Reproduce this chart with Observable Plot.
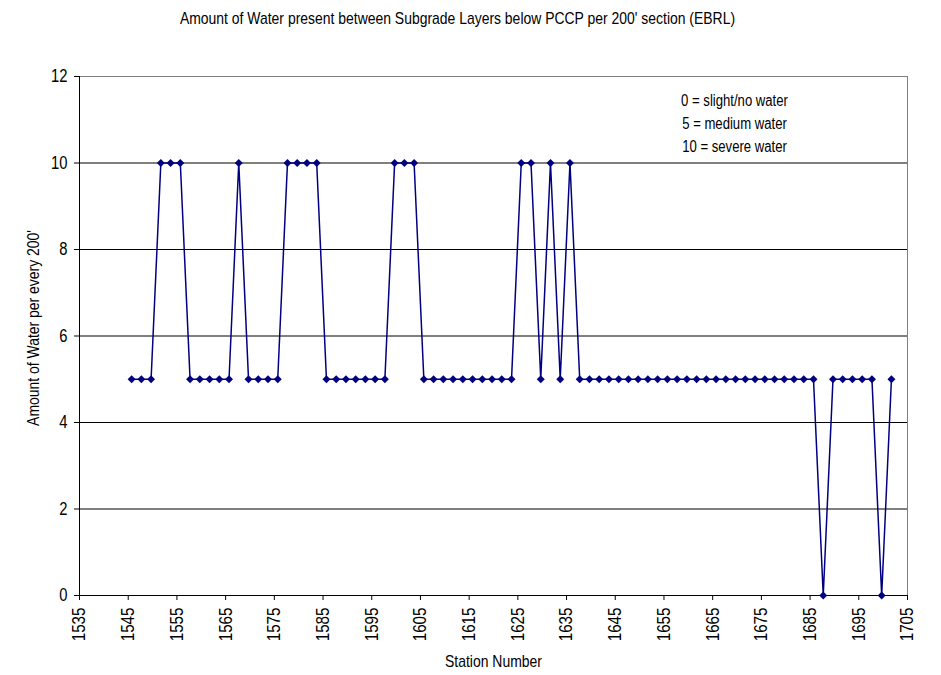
<!DOCTYPE html>
<html>
<head>
<meta charset="utf-8">
<script src="https://cdn.jsdelivr.net/npm/d3@7"></script>
<script src="https://cdn.jsdelivr.net/npm/@observablehq/plot@0.6"></script>
<style>
  html, body { margin: 0; padding: 0; background: #fff; }
  #chart svg { display: block; }
</style>
</head>
<body>
<div id="chart"></div>
<script>
// Station (in 100 ft units) at each 200' section along the EBRL
const stations = [
  1545.7, 1547.7, 1549.7, 1551.7, 1553.7, 1555.7, 1557.7, 1559.7, 1561.7, 1563.7,
  1565.7, 1567.7, 1569.7, 1571.7, 1573.7, 1575.7, 1577.7, 1579.7, 1581.7, 1583.7,
  1585.7, 1587.7, 1589.7, 1591.7, 1593.7, 1595.7, 1597.7, 1599.7, 1601.7, 1603.7,
  1605.7, 1607.7, 1609.7, 1611.7, 1613.7, 1615.7, 1617.7, 1619.7, 1621.7, 1623.7,
  1625.7, 1627.7, 1629.7, 1631.7, 1633.7, 1635.7, 1637.7, 1639.7, 1641.7, 1643.7,
  1645.7, 1647.7, 1649.7, 1651.7, 1653.7, 1655.7, 1657.7, 1659.7, 1661.7, 1663.7,
  1665.7, 1667.7, 1669.7, 1671.7, 1673.7, 1675.7, 1677.7, 1679.7, 1681.7, 1683.7,
  1685.7, 1687.7, 1689.7, 1691.7, 1693.7, 1695.7, 1697.7, 1699.7, 1701.7
];

// Water rating per section: 0 = slight/no, 5 = medium, 10 = severe
const water = [
  5, 5, 5, 10, 10, 10, 5, 5, 5, 5,
  5, 10, 5, 5, 5, 5, 10, 10, 10, 10,
  5, 5, 5, 5, 5, 5, 5, 10, 10, 10,
  5, 5, 5, 5, 5, 5, 5, 5, 5, 5,
  10, 10, 5, 10, 5, 10, 5, 5, 5, 5,
  5, 5, 5, 5, 5, 5, 5, 5, 5, 5,
  5, 5, 5, 5, 5, 5, 5, 5, 5, 5,
  5, 0, 5, 5, 5, 5, 5, 0, 5
];

const xTicks = [1535, 1545, 1555, 1565, 1575, 1585, 1595, 1605, 1615, 1625,
                1635, 1645, 1655, 1665, 1675, 1685, 1695, 1705];
const yTicks = [0, 2, 4, 6, 8, 10, 12];
const gridLevels = [2, 4, 6, 8, 10];
const legendLines = ["0 = slight/no water", "5 = medium water", "10 = severe water"];

const titleText = "Amount of Water present between Subgrade Layers below PCCP per 200' section (EBRL)";
const xTitle = "Station Number";
const yTitle = "Amount of Water per every 200'";

const sections = stations.map((s, i) => ({station: s, water: water[i]}));

const font = "'Liberation Sans', Arial, sans-serif";
const navy = "#000080";

const chart = Plot.plot({
  width: 941,
  height: 675,
  marginLeft: 79,
  marginRight: 34,
  marginTop: 76,
  marginBottom: 80,
  style: {fontFamily: font, background: "#fff", color: "#000"},
  x: {domain: [1535, 1705]},
  y: {domain: [0, 12]},
  marks: [
    // horizontal gridlines
    Plot.ruleY(gridLevels, {stroke: "#000", strokeWidth: 1}),
    // plot-area border (top and right)
    Plot.ruleY([12], {stroke: "#808080", strokeWidth: 1}),
    Plot.ruleX([1705], {stroke: "#808080", strokeWidth: 1}),
    // axes
    Plot.axisY({ticks: yTicks, tickSize: 5, tickPadding: 7, fontSize: 18,
                label: null, stroke: "#000", strokeOpacity: 1}),
    Plot.axisX({ticks: xTicks, tickRotate: -90, tickSize: 5, tickPadding: 7, fontSize: 18.5,
                label: null, tickFormat: d => String(d), stroke: "#000", strokeOpacity: 1}),
    Plot.ruleX([1535], {stroke: "#000", strokeWidth: 1}),
    Plot.ruleY([0], {stroke: "#000", strokeWidth: 1}),
    // series
    Plot.line(sections, {x: "station", y: "water", stroke: navy, strokeWidth: 1.5}),
    Plot.dot(sections, {x: "station", y: "water", symbol: "diamond2", r: 3.6, fill: navy, stroke: "none"}),
    // rating key
    Plot.text([legendLines.join("\n")], {
      frameAnchor: "top", dx: 241, dy: 13, lineAnchor: "top",
      lineHeight: 1.44, fontSize: 16, fill: "#000"
    }),
    // titles
    Plot.text([titleText], {
      frameAnchor: "top", dx: -36, dy: -58, lineAnchor: "middle",
      fontSize: 17, fill: "#000"
    }),
    Plot.text([xTitle], {
      frameAnchor: "bottom", dy: 66, lineAnchor: "middle",
      fontSize: 17, fill: "#000"
    }),
    Plot.text([yTitle], {
      frameAnchor: "left", dx: -46, dy: -8, rotate: -90, lineAnchor: "middle",
      textAnchor: "middle", fontSize: 17, fill: "#000"
    })
  ]
});

document.getElementById("chart").appendChild(chart);

// Condensed lettering: squeeze every run of text horizontally, keeping glyph height
const condense = 0.82;
chart.querySelectorAll("text, tspan").forEach(el => {
  if (el.querySelector("tspan")) return;
  const len = el.getComputedTextLength();
  if (len > 0) {
    el.setAttribute("textLength", (len * condense).toFixed(2));
    el.setAttribute("lengthAdjust", "spacingAndGlyphs");
  }
});
</script>
</body>
</html>
